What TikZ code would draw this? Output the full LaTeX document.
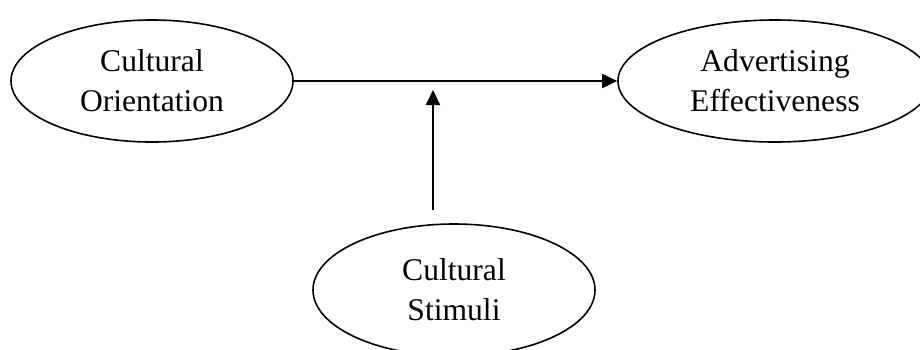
\documentclass[tikz,border=0pt]{standalone}
\usepackage{fontspec}
\setmainfont{Liberation Serif}
\usetikzlibrary{shapes.geometric,arrows.meta}
\begin{document}
\begin{tikzpicture}[x=1pt,y=-1pt,
  construct/.style={draw, ellipse, line width=1.6pt, inner sep=0pt, align=center,
    font=\fontsize{31.6}{40}\selectfont},
  link/.style={line width=1.8pt, -{Triangle[length=15pt,width=14pt]}}]
  \useasboundingbox (0,0) rectangle (920,349);
  \node[construct, minimum width=282pt, minimum height=122pt] (co) at (152,81)
    {Cultural\\Orientation};
  \node[construct, minimum width=314pt, minimum height=122pt] (ae) at (775,81)
    {Advertising\\Effectiveness};
  \node[construct, minimum width=282pt, minimum height=132pt] (cs) at (454,290)
    {Cultural\\Stimuli};
  \coordinate (mb) at (433,210);
  \coordinate (mt) at (433,90);
  \draw[link] (co.east) -- (ae.west);
  \draw[link] (mb) -- (mt);
\end{tikzpicture}
\end{document}
